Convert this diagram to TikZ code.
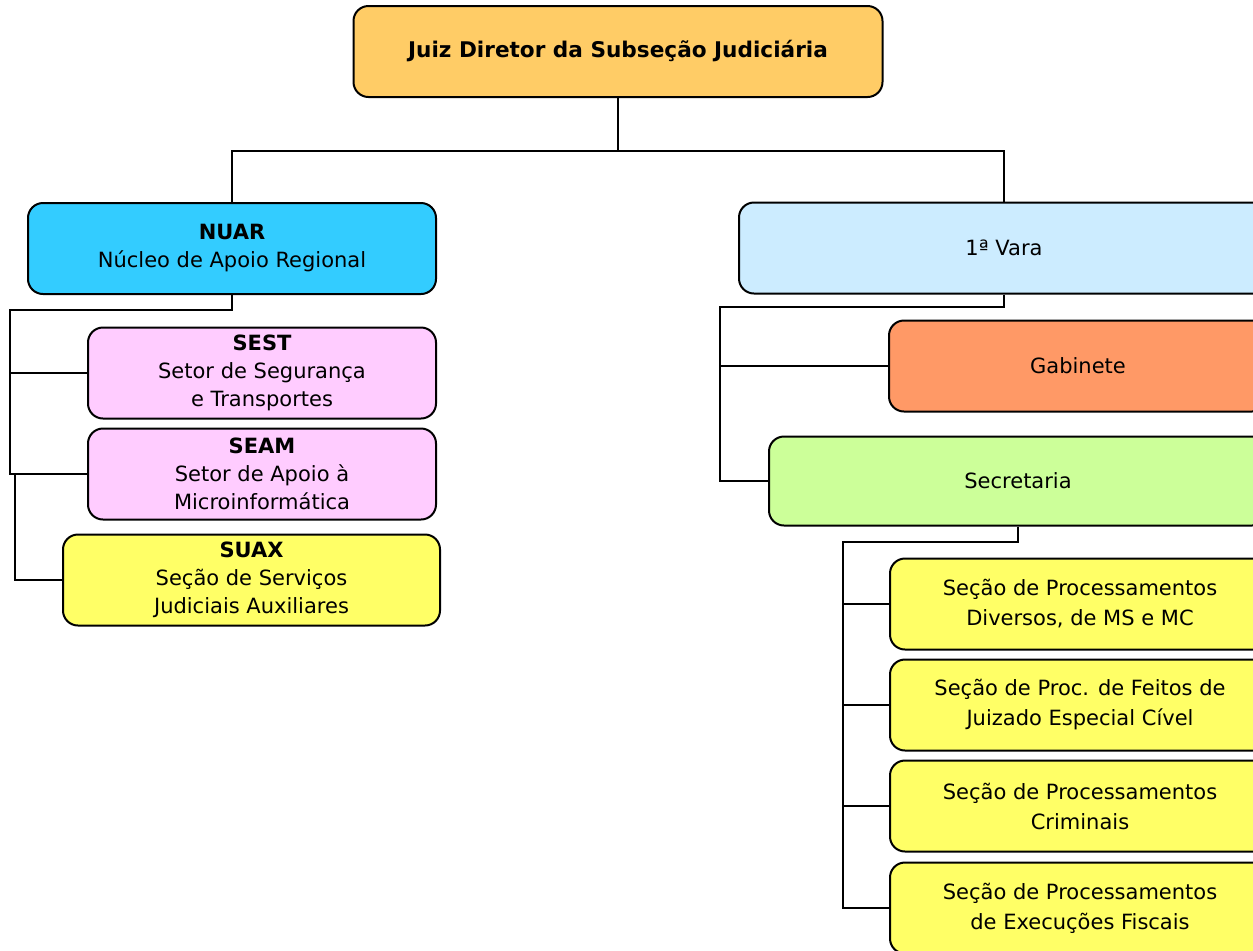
\documentclass[tikz,border=0pt]{standalone}
\usepackage{fontspec}
\setmainfont{DejaVu Sans}
\usepackage{xcolor}
\definecolor{boxjuiz}{HTML}{FFCC66}
\definecolor{boxnuar}{HTML}{33CCFF}
\definecolor{boxvara}{HTML}{CCECFF}
\definecolor{boxsetor}{HTML}{FFCCFF}
\definecolor{boxsecao}{HTML}{FFFF66}
\definecolor{boxgab}{HTML}{FF9966}
\definecolor{boxsec}{HTML}{CCFF99}

\begin{document}
\begin{tikzpicture}[x=0.5pt, y=-0.5pt,
    unit/.style={draw, line width=1pt, rounded corners=7.5pt, align=center,
      inner sep=0pt, minimum height=45.5pt,
      font=\fontsize{10.5}{14}\selectfont},
    subunit/.style={unit, font=\fontsize{10.5}{15}\selectfont,
      fill=boxsecao, minimum width=190pt},
    link/.style={line width=0.9pt}]
    \useasboundingbox (0,0) rectangle (1253,950);

    % top level
    \node[unit, fill=boxjuiz, minimum width=264.5pt,
      font=\fontsize{10.8}{14}\selectfont\bfseries] (juiz) at (618,51.5)
      {Juiz Diretor da Subseção Judiciária};

    \node[unit, fill=boxnuar, minimum width=204pt] (nuar) at (232,248.5)
      {\textbf{NUAR}\\Núcleo de Apoio Regional};
    \node[unit, fill=boxvara, minimum width=265pt] (vara) at (1004,248)
      {1ª Vara};

    \draw[link] (juiz.south) -- ++(0,53) coordinate (split)
      -| (nuar.north);
    \draw[link] (split) -| (vara.north);

    % NUAR side
    \node[unit, fill=boxsetor, minimum width=174pt] (sest) at (262,373)
      {\textbf{SEST}\\Setor de Segurança\\e Transportes};
    \node[unit, fill=boxsetor, minimum width=174pt] (seam) at (262,474)
      {\textbf{SEAM}\\Setor de Apoio à\\Microinformática};
    \node[unit, fill=boxsecao, minimum width=188.5pt] (suax) at (251.5,580)
      {\textbf{SUAX}\\Seção de Serviços\\Judiciais Auxiliares};

    \coordinate (nuarbus) at (10,310);
    \coordinate (nuarjog) at (15,474);
    \draw[link] (nuar.south) |- (nuarbus) |- (seam.west);
    \draw[link] (sest.west) -- (sest.west -| nuarbus);
    \draw[link] (nuarjog) |- (suax.west);

    % 1a Vara side
    \node[unit, fill=boxgab, minimum width=189pt] (gab) at (1078,366)
      {Gabinete};
    \node[unit, fill=boxsec, minimum width=249pt, minimum height=44.5pt]
      (sec) at (1018,481) {Secretaria};

    \coordinate (varabus) at (720,307);
    \draw[link] (vara.south) |- (varabus) |- (sec.west);
    \draw[link] (gab.west) -- (gab.west -| varabus);

    % Secretaria
    \node[subunit] (proc1) at (1080,604)
      {Seção de Processamentos\\Diversos, de MS e MC};
    \node[subunit] (proc2) at (1080,705)
      {Seção de Proc. de Feitos de\\Juizado Especial Cível};
    \node[subunit] (proc3) at (1080,806)
      {Seção de Processamentos\\Criminais};
    \node[subunit] (proc4) at (1080,908)
      {Seção de Processamentos\\de Execuções Fiscais};

    \coordinate (secbus) at (843,542);
    \draw[link] (sec.south) |- (secbus) |- (proc4.west);
    \foreach \p in {proc1,proc2,proc3}
      \draw[link] (\p.west) -- (\p.west -| secbus);
  \end{tikzpicture}
\end{document}
